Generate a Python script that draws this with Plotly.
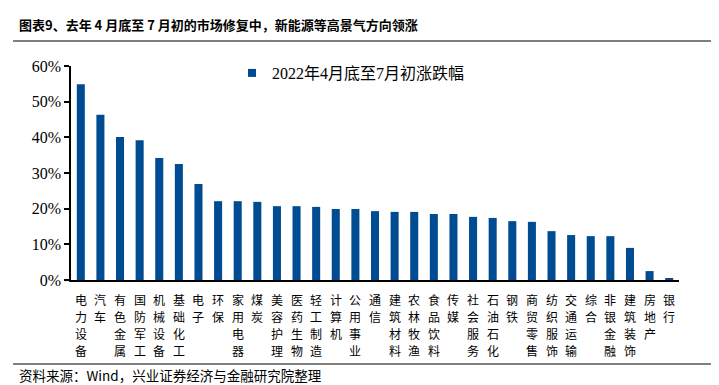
import plotly.graph_objects as go

categories = ["电力设备", "汽车", "有色金属", "国防军工", "机械设备", "基础化工", "电子", "环保",
              "家用电器", "煤炭", "美容护理", "医药生物", "轻工制造", "计算机", "公用事业", "通信",
              "建筑材料", "农林牧渔", "食品饮料", "传媒", "社会服务", "石油石化", "钢铁", "商贸零售",
              "纺织服饰", "交通运输", "综合", "非银金融", "建筑装饰", "房地产", "银行"]
values = [54.9, 46.3, 40.1, 39.2, 34.2, 32.5, 26.9, 22.1, 22.1, 21.9, 20.7, 20.7, 20.5, 19.9, 19.9,
          19.3, 19.1, 19.1, 18.5, 18.5, 17.7, 17.4, 16.5, 16.3, 13.7, 12.6, 12.3, 12.3, 9.0, 2.5, 0.4]
series_name = "2022年4月底至7月初涨跌幅"
title_text = "图表9、去年 4 月底至 7 月初的市场修复中，新能源等高景气方向领涨"
source_text = "资料来源：Wind，兴业证券经济与金融研究院整理"

# plot area in pixels
L, R, T, B = 63, 671, 58, 272
W, H = 719, 385
def px(x):
    return (x - L) / (R - L)
def py(y):
    return (B - y) / (B - T)

BLUE = "#004C93"
serif = "Liberation Serif"
cjk = "Noto Sans CJK SC"

fig = go.Figure()
fig.add_trace(go.Bar(
    x=list(range(len(categories))), y=values, name=series_name, showlegend=False,
    marker=dict(color=BLUE, line=dict(width=0)), width=0.41,
))
# legend entry (no data points)
fig.add_trace(go.Scatter(
    x=[None], y=[None], mode="markers", name=series_name, showlegend=True,
    marker=dict(symbol="square", size=8, color=BLUE),
))

fig.update_layout(
    width=W, height=H,
    margin=dict(l=L, r=W - R, t=T, b=H - B, pad=0),
    paper_bgcolor="white", plot_bgcolor="white",
    showlegend=True,
    legend=dict(x=px(224), y=py(48), xanchor="left", yanchor="top",
                font=dict(family=serif + ", " + cjk, size=16, color="#000"),
                bgcolor="rgba(0,0,0,0)", itemwidth=30, tracegroupgap=0),
    xaxis=dict(
        tickmode="array", tickvals=list(range(len(categories))),
        range=[-0.5, len(categories) - 0.5], showgrid=False, zeroline=False,
        showline=True, linecolor="#000", linewidth=2, ticks="", showticklabels=False,
    ),
    yaxis=dict(
        range=[0, 60], dtick=10, ticksuffix="%", showgrid=False, zeroline=False,
        showline=True, linecolor="#000", linewidth=1.5, ticks="outside", ticklen=5,
        tickcolor="#000", tickwidth=1.5,
        tickfont=dict(family=serif, size=16, color="#000"),
    ),
    font=dict(family=cjk),
)

# vertical category labels, one character per line
for i, cat in enumerate(categories):
    for j, ch in enumerate(cat):
        fig.add_annotation(text=ch, xref="x", yref="paper", x=i, y=py(291 + 17.3 * j),
                           xanchor="center", yanchor="middle", showarrow=False,
                           font=dict(family=cjk, size=12, color="#000"))

fig.add_annotation(text="<b>" + title_text + "</b>", xref="paper", yref="paper",
                   x=px(9), y=py(16), xanchor="left", yanchor="middle", showarrow=False,
                   font=dict(family=cjk, size=13, color="#000"))
fig.add_annotation(text=source_text, xref="paper", yref="paper",
                   x=px(9), y=py(367), xanchor="left", yanchor="middle", showarrow=False,
                   font=dict(family=cjk, size=13.5, color="#000"))
fig.add_shape(type="line", xref="paper", yref="paper", x0=px(5), x1=px(713), y0=py(33), y1=py(33),
              line=dict(color="#000", width=1.2))
fig.add_shape(type="line", xref="paper", yref="paper", x0=px(5), x1=px(713), y0=py(356), y1=py(356),
              line=dict(color="#000", width=1.2))

fig.write_html("out.html")
